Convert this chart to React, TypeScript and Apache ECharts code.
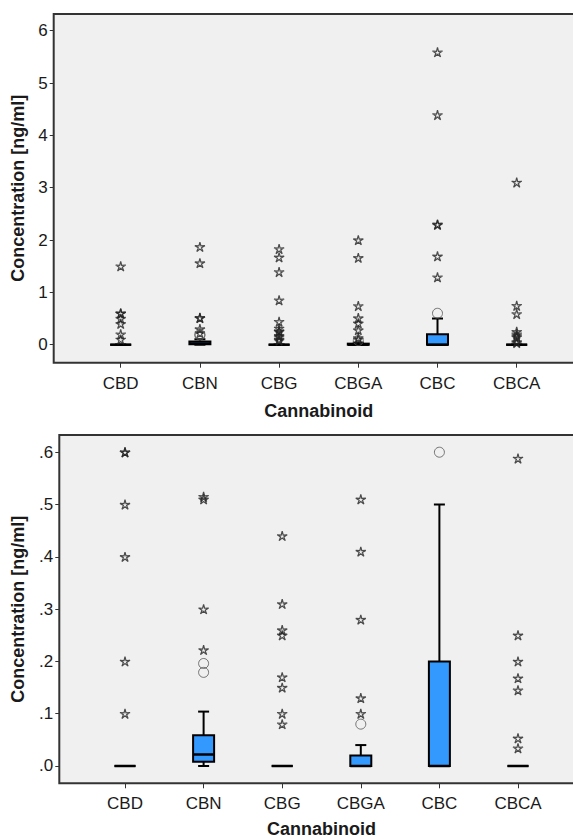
import React, { useEffect, useRef } from 'react';
import * as echarts from 'echarts';

const categories = ['CBD', 'CBN', 'CBG', 'CBGA', 'CBC', 'CBCA'];

// box statistics per cannabinoid: [min, Q1, median, Q3, max]
const boxStats = [
  [0, 0, 0, 0, 0],
  [0, 0.008, 0.022, 0.059, 0.104],
  [0, 0, 0, 0, 0],
  [0, 0, 0, 0.02, 0.04],
  [0, 0, 0, 0.2, 0.5],
  [0, 0, 0, 0, 0],
];

// extreme outliers (stars)
const extremeOutliers = [
  [1.5, 0.6, 0.6, 0.5, 0.4, 0.2, 0.1],
  [1.87, 1.56, 0.515, 0.51, 0.3, 0.222],
  [1.83, 1.67, 1.39, 0.85, 0.44, 0.31, 0.26, 0.25, 0.17, 0.15, 0.1, 0.08],
  [2.0, 1.66, 0.74, 0.51, 0.41, 0.28, 0.13, 0.1],
  [5.59, 4.39, 2.3, 2.29, 1.69, 1.29],
  [3.1, 0.745, 0.588, 0.25, 0.2, 0.168, 0.145, 0.053, 0.034],
];

// mild outliers (circles)
const mildOutliers = [[], [0.196, 0.179], [], [0.08], [0.6], []];

const topTicks = [0, 1, 2, 3, 4, 5, 6];
const bottomTicks = [0, 0.1, 0.2, 0.3, 0.4, 0.5, 0.6];
const catTicks = [0, 1, 2, 3, 4, 5];

const FONT = '"Liberation Sans", Arial, sans-serif';

function starPath() {
  const pts: string[] = [];
  for (let k = 0; k < 10; k++) {
    const a = (-90 + k * 36) * Math.PI / 180;
    const r = k % 2 === 0 ? 10 : 3.2;
    pts.push((k === 0 ? 'M' : 'L') + (r * Math.cos(a)).toFixed(2) + ',' + (r * Math.sin(a)).toFixed(2));
  }
  return 'path://' + pts.join(' ') + ' Z';
}

export default function App() {
  const ref = useRef<HTMLDivElement>(null);
  useEffect(() => {
    if (!ref.current) return;
    const chart = echarts.init(ref.current, null, { renderer: 'svg' });
    const STAR = starPath();

    const panels = [
      { grid: { left: 53.7, top: 14, width: 530, height: 348.7 }, xMin: -0.846, xMax: 5.846, yMin: -0.344, yMax: 6.319, ticks: topTicks, fmt: (v: number) => String(v), nameGap: 27, xNameGap: 39 },
      { grid: { left: 59.3, top: 435, width: 524.4, height: 348.3 }, xMin: -0.836, xMax: 5.836, yMin: -0.0331, yMax: 0.6329, ticks: bottomTicks, fmt: (v: number) => v.toFixed(1).replace(/^0/, ''), nameGap: 32, xNameGap: 37 },
    ];

    const grids: any[] = [];
    const xAxes: any[] = [];
    const yAxes: any[] = [];
    const series: any[] = [];

    panels.forEach((p, gi) => {
      grids.push({ ...p.grid, containLabel: false, outerBoundsMode: 'none', show: true, backgroundColor: '#f0f0f0', borderColor: '#333', borderWidth: 2 });
      xAxes.push({
        type: 'value', gridIndex: gi, min: p.xMin, max: p.xMax,
        name: 'Cannabinoid', nameLocation: 'middle', nameGap: p.xNameGap,
        nameTextStyle: { fontFamily: FONT, fontSize: 18, lineHeight: 18, fontWeight: 'bold', color: '#1a1a1a' },
        axisLine: { show: false, onZero: false },
        axisTick: { show: true, customValues: catTicks, length: 5, lineStyle: { color: '#333', width: 1 } },
        axisLabel: { customValues: catTicks, formatter: (v: number) => categories[Math.round(v)] ?? '', margin: 12, fontFamily: FONT, fontSize: 17, color: '#1a1a1a' },
        splitLine: { show: false },
      });
      yAxes.push({
        type: 'value', gridIndex: gi, min: p.yMin, max: p.yMax,
        name: 'Concentration [ng/ml]', nameLocation: 'middle', nameGap: p.nameGap,
        nameTextStyle: { fontFamily: FONT, fontSize: 18, fontWeight: 'bold', color: '#1a1a1a' },
        axisLine: { show: false, onZero: false },
        axisTick: { show: true, customValues: p.ticks, length: 4, lineStyle: { color: '#333', width: 1 } },
        axisLabel: { customValues: p.ticks, formatter: p.fmt, margin: 6, fontFamily: FONT, fontSize: 17, color: '#1a1a1a' },
        splitLine: { show: false },
      });

      series.push({
        type: 'custom', xAxisIndex: gi, yAxisIndex: gi, z: 2,
        data: boxStats.map((s, i) => [i, ...s]),
        encode: { x: 0, y: [1, 2, 3, 4, 5] },
        renderItem: (_params: any, api: any) => {
          const x = api.value(0);
          const c = (v: number) => api.coord([x, v]);
          const [cx, yMin] = c(api.value(1));
          const yQ1 = c(api.value(2))[1];
          const yMed = c(api.value(3))[1];
          const yQ3 = c(api.value(4))[1];
          const yMax = c(api.value(5))[1];
          const bw = 21, cw = 11;
          const ls = { stroke: '#000', lineWidth: 2 };
          return {
            type: 'group',
            children: [
              { type: 'line', shape: { x1: cx, y1: yQ1, x2: cx, y2: yMin }, style: ls },
              { type: 'line', shape: { x1: cx, y1: yQ3, x2: cx, y2: yMax }, style: ls },
              { type: 'line', shape: { x1: cx - cw / 2, y1: yMin, x2: cx + cw / 2, y2: yMin }, style: ls },
              { type: 'line', shape: { x1: cx - cw / 2, y1: yMax, x2: cx + cw / 2, y2: yMax }, style: ls },
              { type: 'rect', shape: { x: cx - bw / 2, y: yQ3, width: bw, height: Math.max(yQ1 - yQ3, 0) }, style: { fill: '#3399ff', stroke: '#000', lineWidth: 2 } },
              { type: 'line', shape: { x1: cx - bw / 2, y1: yMed, x2: cx + bw / 2, y2: yMed }, style: { stroke: '#000', lineWidth: 2.5 } },
            ],
          };
        },
      });

      const starData: number[][] = [];
      extremeOutliers.forEach((arr, i) => arr.forEach((v) => { if (v <= p.yMax) starData.push([i, v]); }));
      const circData: number[][] = [];
      mildOutliers.forEach((arr, i) => arr.forEach((v) => { if (v <= p.yMax) circData.push([i, v]); }));

      series.push({
        type: 'scatter', xAxisIndex: gi, yAxisIndex: gi, z: 3,
        symbol: STAR, symbolSize: 10, symbolKeepAspect: true,
        itemStyle: { color: 'rgba(0,0,0,0)', borderColor: '#222', borderWidth: 1.2 },
        data: starData,
      });
      series.push({
        type: 'scatter', xAxisIndex: gi, yAxisIndex: gi, z: 3,
        symbol: 'circle', symbolSize: 10,
        itemStyle: { color: 'rgba(0,0,0,0)', borderColor: '#555', borderWidth: 1 },
        data: circData,
      });
    });

    chart.setOption({
      animation: false,
      backgroundColor: '#fff',
      grid: grids,
      xAxis: xAxes,
      yAxis: yAxes,
      series,
    });
    return () => chart.dispose();
  }, []);

  return <div ref={ref} style={{ position: 'absolute', left: 0, top: 0, width: 573, height: 839, overflow: 'hidden' }} />;
}
